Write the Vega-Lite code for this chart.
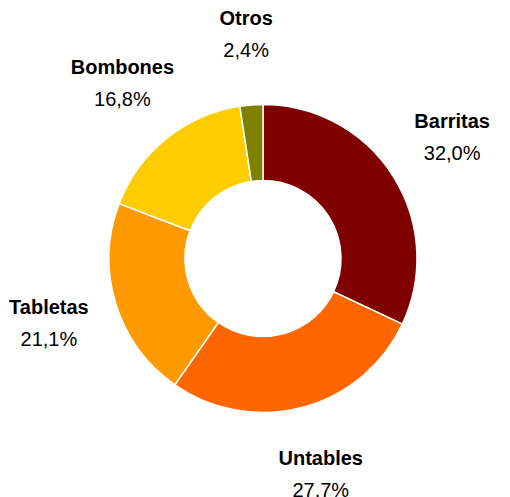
{
  "$schema": "https://vega.github.io/schema/vega-lite/v6.json",
  "width": 510,
  "height": 497,
  "autosize": {"type": "fit", "contains": "padding"},
  "padding": {"left": 16, "right": 0, "top": 19, "bottom": 0},
  "background": "white",
  "view": {"stroke": null},
  "data": {
    "values": [
      {"cat": "Barritas", "order": 1, "value": 32.0, "label": "32,0%"},
      {"cat": "Untables", "order": 2, "value": 27.7, "label": "27,7%"},
      {"cat": "Tabletas", "order": 3, "value": 21.1, "label": "21,1%"},
      {"cat": "Bombones", "order": 4, "value": 16.8, "label": "16,8%"},
      {"cat": "Otros", "order": 5, "value": 2.4, "label": "2,4%"}
    ]
  },
  "encoding": {
    "theta": {"field": "value", "type": "quantitative", "stack": true},
    "order": {"field": "order", "type": "quantitative"}
  },
  "layer": [
    {
      "mark": {"type": "arc", "outerRadius": 154, "innerRadius": 78, "stroke": "white", "strokeWidth": 1.5},
      "encoding": {
        "color": {
          "field": "cat",
          "type": "nominal",
          "scale": {
            "domain": ["Barritas", "Untables", "Tabletas", "Bombones", "Otros"],
            "range": ["#800000", "#FF6600", "#FF9900", "#FFCC00", "#808000"]
          },
          "legend": null
        }
      }
    },
    {
      "mark": {"type": "text", "radius": 224, "dy": -16, "font": "Liberation Sans", "fontSize": 20, "fontWeight": "bold", "color": "black", "letterSpacing": -0.9},
      "encoding": {"text": {"field": "cat", "type": "nominal"}}
    },
    {
      "mark": {"type": "text", "radius": 224, "dy": 16, "font": "Liberation Sans", "fontSize": 20, "color": "black", "letterSpacing": -0.8},
      "encoding": {"text": {"field": "label", "type": "nominal"}}
    }
  ]
}
